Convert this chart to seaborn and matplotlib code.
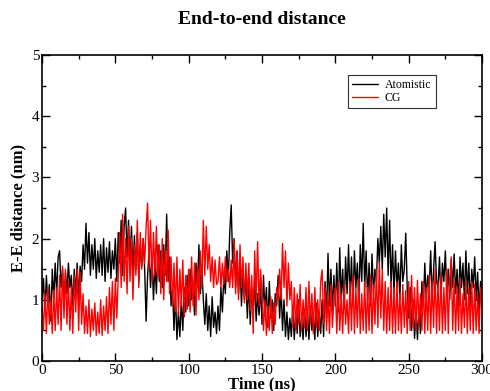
import numpy as np
import pandas as pd
import seaborn as sns
import matplotlib.pyplot as plt
from matplotlib.ticker import MultipleLocator

atomistic = [
    1.0, 1.35, 0.8, 1.4, 0.9, 1.25, 0.65, 1.5, 1.0, 1.6,
    1.1, 1.7, 1.8, 1.2, 1.5, 0.9, 1.45, 1.1, 1.6, 1.2,
    1.4, 0.9, 1.5, 1.1, 1.6, 1.0, 1.55, 1.3, 1.9, 1.5,
    2.25, 1.6, 2.1, 1.4, 1.9, 1.5, 2.0, 1.35, 1.8, 1.45,
    1.9, 1.4, 2.0, 1.3, 1.85, 1.45, 1.95, 1.35, 1.8, 1.5,
    2.0, 1.3, 2.1, 1.6, 2.3, 1.4, 2.2, 2.5, 1.7, 2.3,
    1.6, 2.2, 1.4, 2.05, 1.5, 2.1, 1.3, 1.9, 1.55, 2.0,
    1.5, 0.65, 1.4, 1.8, 1.2, 1.7, 1.0, 1.6, 1.1, 1.9,
    1.3, 1.8, 1.2, 1.9, 1.4, 2.4, 1.3, 1.7, 0.9, 1.2,
    0.5, 1.1, 0.35, 0.8, 0.4, 1.0, 0.5, 1.2, 0.8, 1.4,
    0.9, 1.5, 1.0, 1.3, 0.75, 1.6, 1.2, 1.9, 1.1, 1.5,
    1.0, 0.6, 1.1, 0.5, 0.9, 0.4, 1.05, 0.55, 0.8, 0.45,
    0.9, 0.5, 1.2, 0.8, 1.4, 1.1, 1.8, 1.3, 2.1, 2.55,
    1.6, 2.0, 1.2, 1.8, 1.1, 1.6, 0.9, 1.5, 1.0, 1.4,
    0.7, 1.3, 0.6, 1.2, 0.8, 1.35, 0.65, 1.1, 0.75, 1.25,
    0.6, 1.4, 0.8, 1.2, 0.55, 1.3, 0.7, 1.0, 0.5, 1.1,
    0.9, 1.4, 0.7, 1.2, 0.5, 1.0, 0.4, 0.8, 0.35, 0.7,
    0.4, 0.9, 0.35, 0.8, 0.45, 1.0, 0.4, 0.7, 0.35, 0.85,
    0.4, 0.8, 0.35, 0.9, 0.5, 0.75, 0.35, 0.95, 0.4, 0.8,
    0.45, 1.0, 0.4, 1.3, 0.7, 1.76, 0.9, 1.5, 0.8, 1.4,
    0.9, 1.6, 0.8, 1.85, 1.0, 1.5, 0.85, 1.7, 1.1, 1.9,
    1.0, 1.7, 0.9, 1.8, 1.2, 1.6, 0.95, 1.9, 1.3, 2.25,
    1.2, 1.8, 1.0, 1.6, 0.9, 1.75, 1.1, 1.5, 1.3, 2.0,
    1.6, 2.2, 1.5, 2.4, 1.7, 2.5, 1.4, 2.3, 1.2, 1.9,
    1.1, 1.8, 1.2, 1.6, 1.0, 1.9, 1.3, 1.5, 2.09, 1.2,
    0.7, 1.2, 0.5, 1.0, 0.37, 0.8, 0.35, 0.9, 0.45, 1.3,
    0.9, 1.6, 1.0, 1.4, 1.2, 1.8, 1.0, 1.5, 1.95, 1.3,
    1.2, 1.7, 1.0, 1.6, 1.3, 1.8, 1.1, 1.5, 1.0, 1.65,
    1.2, 1.75, 1.1, 1.5, 0.9, 1.7, 1.2, 1.6, 1.0, 1.8,
    1.1, 1.6, 0.9, 1.5, 1.2, 1.7, 1.0, 1.45, 0.8, 1.3, 1.1,
]

cg = [
    0.9, 0.5, 1.1, 0.45, 1.2, 0.6, 1.0, 0.45, 1.15, 0.5,
    1.2, 0.6, 1.4, 0.5, 1.55, 0.7, 1.5, 0.6, 1.3, 0.5,
    1.2, 0.45, 1.4, 0.8, 1.5, 0.5, 1.45, 0.6, 1.1, 0.45,
    0.9, 0.45, 1.0, 0.4, 0.85, 0.5, 0.95, 0.42, 0.8, 0.45,
    1.0, 0.42, 0.9, 0.5, 1.05, 0.45, 1.2, 0.6, 1.3, 0.5,
    1.35, 0.7, 1.4, 2.1, 1.2, 2.4, 1.3, 2.0, 1.1, 2.2,
    1.3, 2.0, 1.0, 1.9, 1.4, 2.3, 1.2, 2.1, 1.5, 2.0,
    1.6, 2.2, 2.58, 1.5, 2.3, 1.3, 2.1, 1.4, 2.2, 1.35,
    1.9, 1.1, 2.0, 1.0, 1.8, 1.3, 2.14, 1.1, 1.7, 0.9,
    1.6, 0.8, 1.7, 0.75, 1.5, 0.9, 1.65, 0.72, 1.4, 0.85,
    1.5, 0.8, 1.7, 0.9, 1.6, 0.75, 1.55, 1.0, 1.8, 1.2,
    2.3, 1.4, 2.2, 1.5, 1.9, 1.3, 1.7, 1.2, 1.65, 1.25,
    1.3, 1.7, 1.2, 1.6, 1.25, 1.7, 1.3, 1.5, 1.2, 1.65,
    1.2, 1.98, 1.1, 1.8, 1.0, 1.9, 1.2, 1.7, 0.95, 1.6,
    1.0, 1.6, 0.83, 1.4, 0.45, 1.8, 1.0, 1.95, 0.9, 1.5,
    1.1, 0.5, 1.0, 0.42, 0.9, 0.5, 1.05, 0.45, 0.95, 0.6,
    1.2, 1.0, 1.5, 1.0, 1.92, 1.2, 1.8, 0.9, 1.6, 1.0,
    1.3, 0.55, 1.2, 0.5, 1.1, 0.6, 1.25, 0.5, 1.0, 0.55,
    1.2, 0.5, 1.3, 0.6, 1.1, 0.45, 1.2, 0.55, 1.0, 0.5,
    1.3, 1.49, 0.6, 1.2, 0.5, 1.1, 0.45, 1.25, 0.55, 1.0,
    1.2, 0.45, 1.3, 0.5, 1.1, 0.45, 1.25, 0.6, 1.0, 0.45,
    1.3, 0.5, 1.4, 0.45, 1.2, 0.55, 1.35, 0.45, 1.1, 0.5,
    1.3, 0.45, 1.2, 0.5, 1.4, 0.45, 1.25, 0.6, 1.5, 0.55,
    1.62, 0.7, 1.5, 0.5, 1.3, 0.45, 1.2, 0.5, 1.3, 0.45,
    1.2, 0.45, 1.3, 0.5, 1.1, 0.45, 1.25, 0.55, 1.15, 0.45,
    1.3, 0.5, 1.4, 0.55, 1.2, 0.5, 1.32, 0.6, 1.1, 0.5,
    1.3, 0.45, 1.2, 0.5, 1.4, 0.45, 1.3, 0.55, 1.5, 0.45,
    1.3, 0.5, 1.4, 0.45, 1.2, 0.5, 1.5, 0.45, 1.3, 1.7,
    0.5, 1.3, 0.45, 1.2, 0.5, 1.35, 0.45, 1.1, 0.55, 1.3,
    0.45, 1.2, 0.5, 1.3, 0.45, 1.25, 0.5, 1.1, 0.45, 1.2, 0.9,
]

time_ns = list(range(len(atomistic)))

df = pd.concat([
    pd.DataFrame({"Time": time_ns, "EE": atomistic, "model": "Atomistic"}),
    pd.DataFrame({"Time": time_ns, "EE": cg, "model": "CG"}),
])

sns.set_style("ticks")
plt.rcParams['font.family'] = ['Liberation Serif', 'DejaVu Serif']
plt.rcParams['text.color'] = 'black'
plt.rcParams['axes.labelcolor'] = 'black'
plt.rcParams['xtick.color'] = 'black'
plt.rcParams['ytick.color'] = 'black'
plt.rcParams['axes.edgecolor'] = 'black'

fig = plt.figure(figsize=(4.9, 3.91), dpi=100)
ax = fig.add_axes([0.0857, 0.0767, 0.898, 0.7826])

sns.lineplot(data=df, x="Time", y="EE", hue="model",
             palette={"Atomistic": "black", "CG": "red"},
             linewidth=1.0, ax=ax, estimator=None, sort=False)

ax.set_xlim(0, 300)
ax.set_ylim(0, 5)
ax.xaxis.set_major_locator(MultipleLocator(50))
ax.xaxis.set_minor_locator(MultipleLocator(25))
ax.yaxis.set_major_locator(MultipleLocator(1))
ax.yaxis.set_minor_locator(MultipleLocator(0.5))
ax.tick_params(which="both", direction="in", top=True, right=True,
               labelsize=11, pad=2, width=1)
ax.tick_params(which="major", length=6)
ax.tick_params(which="minor", length=3)
for s in ax.spines.values():
    s.set_linewidth(1.2)
    s.set_visible(True)

ax.set_xlabel("Time (ns)", fontsize=12, fontweight="bold", labelpad=0)
ax.set_ylabel("E-E distance (nm)", fontsize=12, fontweight="bold", labelpad=4)
ax.set_title("End-to-end distance", fontsize=14, fontweight="bold", pad=22)

leg = ax.legend(loc="upper left", bbox_to_anchor=(0.695, 0.935), fontsize=8.5,
                frameon=True, fancybox=False, edgecolor="black",
                handlelength=2.2, borderpad=0.35, labelspacing=0.1,
                handletextpad=0.6, borderaxespad=0)
leg.get_frame().set_linewidth(0.8)

fig.savefig("out.png", dpi=100)
